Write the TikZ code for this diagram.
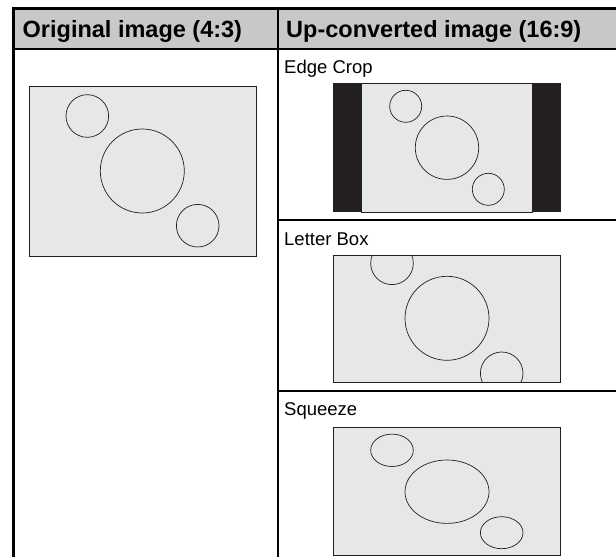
\documentclass[tikz,border=0pt]{standalone}
\usepackage{fontspec}
\setmainfont{Liberation Sans}
\definecolor{hdr}{HTML}{C8C8C8}
\definecolor{scr}{HTML}{E6E7E8}
\definecolor{ink}{HTML}{231F20}
\begin{document}
\begin{tikzpicture}[x=1pt,y=-1pt,
 grid/.style={line width=2.6pt,black},
 screen/.style={fill=scr,draw=ink,line width=1pt},
 ring/.style={draw=ink,line width=0.7pt},
 hdrtext/.style={anchor=base west,inner sep=0pt,font=\fontsize{23.5}{27}\selectfont\bfseries},
 lbl/.style={anchor=base west,inner sep=0pt,font=\fontsize{18.5}{22}\selectfont}]
\useasboundingbox (0,0) rectangle (616,557);
\clip (0,0) rectangle (616,557);
\fill[white] (0,0) rectangle (616,557);
% header
\fill[hdr] (13.5,8.7) rectangle (620,49);
\draw[grid] (13.5,560) -- (13.5,8.7) -- (620,8.7);
\draw[grid] (13.5,49) -- (620,49);
\draw[grid] (278,8.7) -- (278,560);
\draw[grid] (278,220) -- (620,220);
\draw[grid] (278,391) -- (620,391);
\node[hdrtext] (h1) at (22.5,37) {Original image (4:3)};
\node[hdrtext] (h2) at (286,37) {Up-converted image (16:9)};
% original
\draw[screen] (29,86) rectangle (256.7,256.7);
\draw[ring] (87.3,116) circle[radius=21.3];
\draw[ring] (142.3,171) circle[radius=42];
\draw[ring] (197.7,225.7) circle[radius=21.3];
% edge crop
\node[lbl] (l1) at (284,73) {Edge Crop};
\fill[ink] (333.3,83.3) rectangle (560.7,212.3);
\draw[screen] (361.7,83.3) rectangle (532.3,212.3);
\draw[ring] (405.7,106.3) circle[radius=16];
\draw[ring] (447,147.7) circle[radius=31.7];
\draw[ring] (488.3,189.3) circle[radius=16];
% letter box
\node[lbl] (l2) at (284,245) {Letter Box};
\draw[screen] (333.3,255) rectangle (560.7,382.7);
\begin{scope}
\clip (333.3,255) rectangle (560.7,382.7);
\draw[ring] (392,263.3) circle[radius=21.3];
\draw[ring] (447,318.3) circle[radius=42];
\draw[ring] (501.7,373.3) circle[radius=21.3];
\end{scope}
% squeeze
\node[lbl] (l3) at (284,415) {Squeeze};
\draw[screen] (333.3,427.7) rectangle (560.7,555.7);
\draw[ring] (392,450.3) ellipse[x radius=21.3,y radius=16.2];
\draw[ring] (447,491.7) ellipse[x radius=42,y radius=31.7];
\draw[ring] (501.7,532.7) ellipse[x radius=21.3,y radius=16];
\end{tikzpicture}
\end{document}
